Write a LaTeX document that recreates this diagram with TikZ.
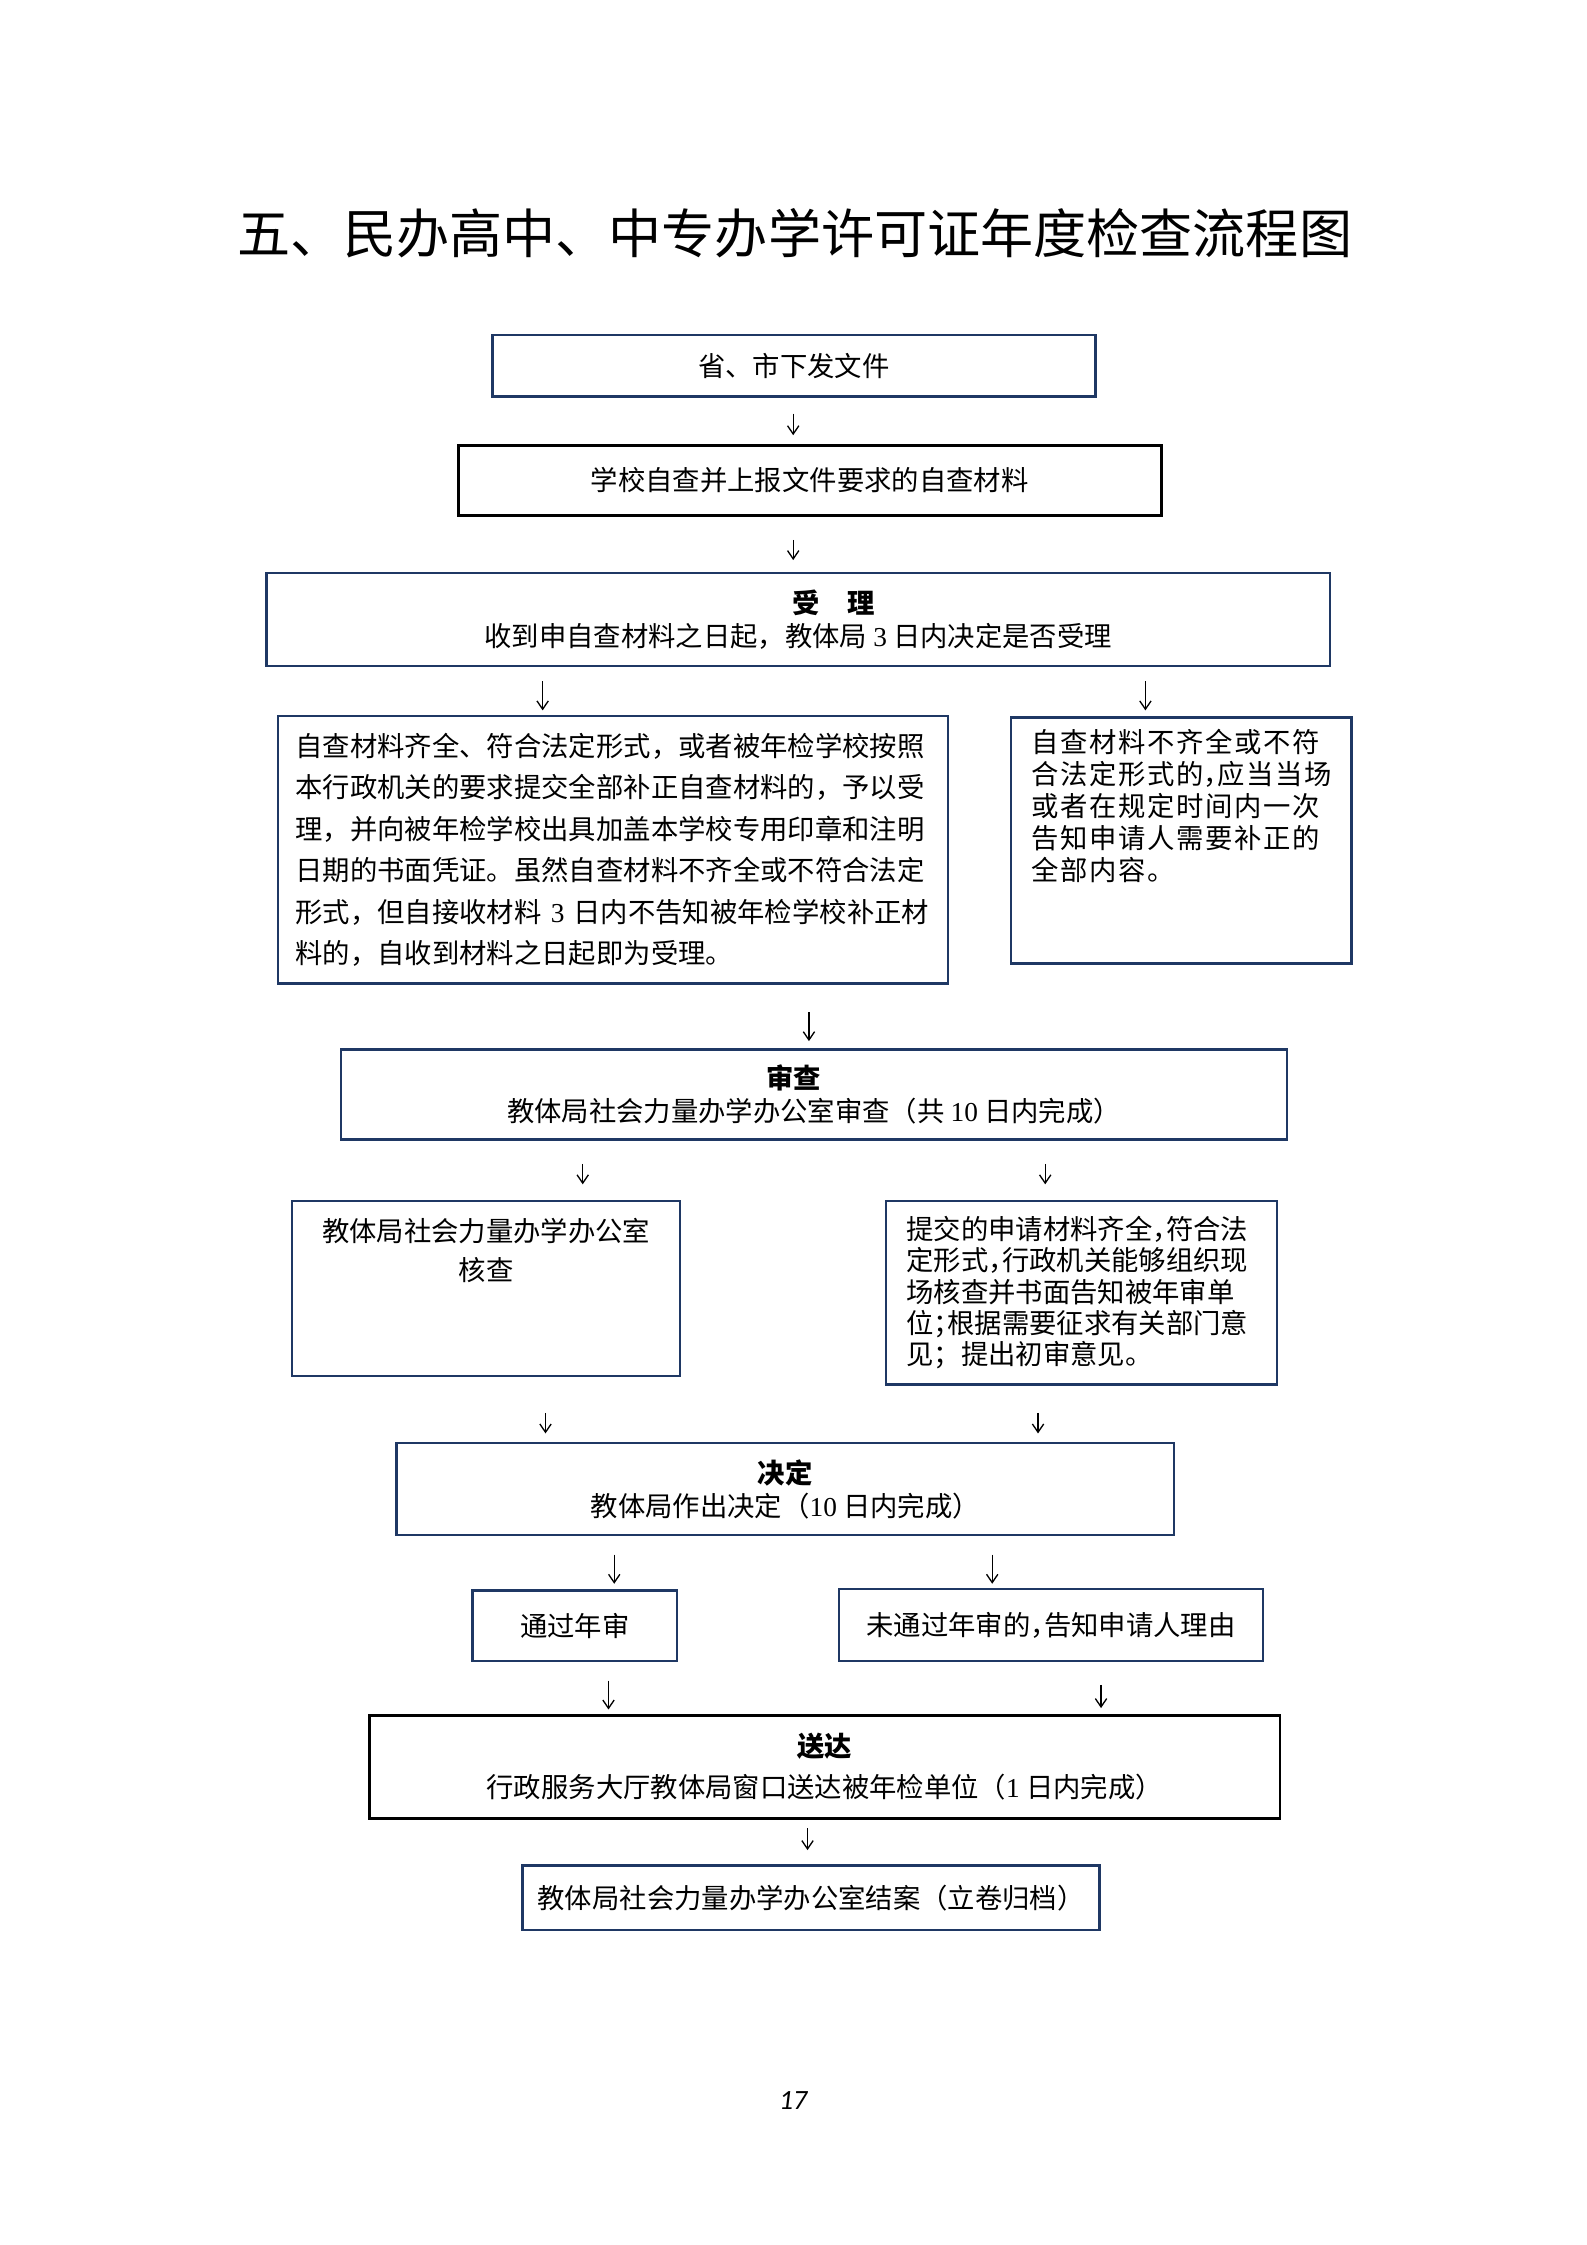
\documentclass[tikz,border=0pt]{standalone}
\usepackage{fontspec}
\setmainfont{Noto Sans CJK SC}
\newfontfamily\widefont[LetterSpace=6]{Noto Sans CJK SC}
\newfontfamily\digitfont{Liberation Serif}
\newfontfamily\pagefont{Carlito}
\usetikzlibrary{arrows.meta}
\definecolor{boxblue}{RGB}{31,56,100}
\newcommand{\dg}[1]{{\digitfont #1}}
\newcommand{\hc}[1]{\makebox[0.5em][l]{#1}}

\begin{document}
\begin{tikzpicture}[
  x=0.18953mm, y=-0.18953mm,
  box/.style={draw=boxblue,line width=0.9pt,inner sep=0pt,align=center,font=\fontsize{10.3pt}{12.4pt}\selectfont},
  blackbox/.style={box,draw=black,line width=1.1pt},
  inbox/.style={inner sep=0pt,anchor=north,font=\fontsize{10.3pt}{12pt}\selectfont},
  flow/.style 2 args={-{Straight Barb[length=1.1mm,width=1.5mm]},line width=0.5pt,
    shorten <=#1*0.18953mm,shorten >=#2*0.18953mm}
]
  \useasboundingbox (0,0) rectangle (1108,1568);

  \node[font=\fontsize{20pt}{24pt}\selectfont] (title) at (555,163) {五、民办高中、中专办学许可证年度检查流程图};

  % first steps
  \node[box,minimum width=79.8mm,minimum height=8.15mm] (issue) at (554.5,255.5) {省、市下发文件};
  \node[blackbox,minimum width=93.06mm,minimum height=9.29mm] (selfcheck) at (565.5,335.5) {学校自查并上报文件要求的自查材料};
  \node[box,minimum width=140.82mm,minimum height=12.32mm] (accept) at (557.5,432.5) {\hspace*{9.4mm}\textbf{受　理}\\收到申自查材料之日起，教体局 \dg{3} 日内决定是否受理};

  % accept or not
  \node[box,minimum width=88.7mm,minimum height=35.44mm,text width=84mm,align=left,
    font=\fontsize{10.3pt}{15.6pt}\selectfont] (complete) at (428,593.5) {自查材料齐全、符合法定形式，或者被年检学校按照\\
    本行政机关的要求提交全部补正自查材料的，予以受\\
    理，并向被年检学校出具加盖本学校专用印章和注明\\
    日期的书面凭证。虽然自查材料不齐全或不符合法定\\
    形式，但自接收材料 \dg{3} 日内不告知被年检学校补正材\\
    料的，自收到材料之日起即为受理。};
  \node[box,minimum width=45.11mm,minimum height=32.6mm,
    label={[inbox,anchor=north,yshift={-9*0.18953mm},text width=39.6mm,align=left]north:{\widefont 自查材料不齐全或不符\\
    合法定形式的\hc{，}应当当场\\
    或者在规定时间内一次\\
    告知申请人需要补正的\\
    全部内容。}}] (incomplete) at (825,587) {};

  % review
  \node[box,minimum width=125.28mm,minimum height=11.94mm] (review) at (568.5,764.5) {\textbf{审查}\hspace*{5.3mm}\\教体局社会力量办学办公室审查（共 \dg{10} 日内完成）};
  \node[box,minimum width=51.36mm,minimum height=23.12mm,
    label={[inbox,anchor=north,yshift={-12*0.18953mm},align=center,
      font=\fontsize{10.3pt}{15pt}\selectfont]north:{教体局社会力量办学办公室\\核查}}] (office) at (339.5,900) {};
  \node[box,minimum width=51.74mm,minimum height=24.26mm,text width=46.4mm,align=left,
    font=\fontsize{10.3pt}{11.8pt}\selectfont] (onsite) at (755.5,903) {提交的申请材料齐全\hc{，}符合法\\
    定形式\hc{，}行政机关能够组织现\\
    场核查并书面告知被年审单\\
    位\hc{；}根据需要征求有关部门意\\
    见；提出初审意见。};

  % decision
  \node[box,minimum width=102.91mm,minimum height=12.13mm] (decide) at (548.5,1040) {\textbf{决定}\\教体局作出决定（\dg{10} 日内完成）};
  \node[box,minimum width=27.1mm,minimum height=9.29mm] (pass) at (401.5,1135.5) {通过年审};
  \node[box,minimum width=56.1mm,minimum height=9.48mm] (fail) at (734,1135) {未通过年审的\hc{，}告知申请人理由};

  % delivery
  \node[blackbox,minimum width=120.54mm,minimum height=13.65mm,
    font=\fontsize{10.3pt}{15.6pt}\selectfont] (deliver) at (576,1234) {\textbf{送达}\\行政服务大厅教体局窗口送达被年检单位（\dg{1} 日内完成）};
  \node[box,minimum width=76.38mm,minimum height=8.53mm] (archive) at (566.5,1325.5) {教体局社会力量办学办公室结案（立卷归档）};

  \node[font=\fontsize{10.5pt}{12pt}\pagefont\itshape] (page) at (554,1467) {17};

  % arrows
  \draw[flow={11}{6}] (issue.south -| 554,0) -- (selfcheck.north -| 554,0);
  \draw[flow={16}{8}] (selfcheck.south -| 554,0) -- (accept.north -| 554,0);
  \draw[flow={10}{3}] (accept.south -| 379,0) -- (complete.north -| 379,0);
  \draw[flow={10}{4}] (accept.south -| 800,0) -- (incomplete.north -| 800,0);
  \draw[flow={19}{5}] (complete.south -| 565,0) -- (review.north -| 565,0);
  \draw[flow={16}{11}] (review.south -| 407,0) -- (office.north -| 407,0);
  \draw[flow={16}{11}] (review.south -| 730,0) -- (onsite.north -| 730,0);
  \draw[flow={25}{6}] (office.south -| 381,0) -- (decide.north -| 381,0);
  \draw[flow={19}{6}] (onsite.south -| 725,0) -- (decide.north -| 725,0);
  \draw[flow={13}{4}] (decide.south -| 429,0) -- (pass.north -| 429,0);
  \draw[flow={13}{3}] (decide.south -| 693,0) -- (fail.north -| 693,0);
  \draw[flow={13}{3}] (pass.south -| 425,0) -- (deliver.north -| 425,0);
  \draw[flow={16}{4}] (fail.south -| 769,0) -- (deliver.north -| 769,0);
  \draw[flow={6}{10}] (deliver.south -| 564,0) -- (archive.north -| 564,0);
\end{tikzpicture}
\end{document}
